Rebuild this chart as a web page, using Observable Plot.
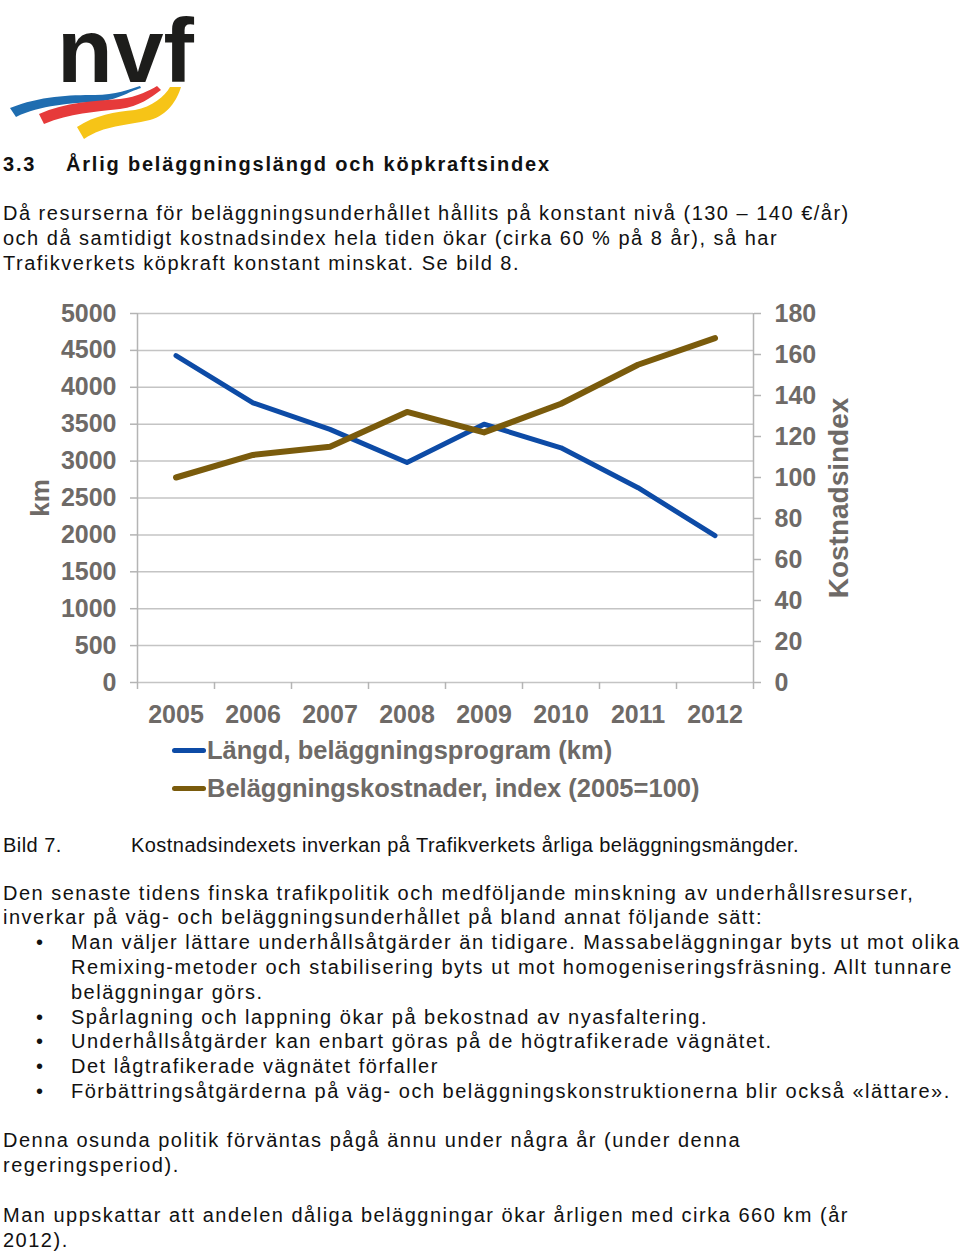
<!DOCTYPE html>
<html><head><meta charset="utf-8">
<script src="https://cdn.jsdelivr.net/npm/d3@7"></script>
<script src="https://cdn.jsdelivr.net/npm/@observablehq/plot@0.6"></script>
<style>
body{margin:0;width:960px;height:1253px;position:relative;background:#fff;overflow:hidden;font-family:"Liberation Sans",Arial,sans-serif;color:#111}
.t{position:absolute;white-space:nowrap;font-size:20px;letter-spacing:1.5px;line-height:20px}
.b{font-weight:bold;letter-spacing:1.8px}
.c{letter-spacing:0.45px}
#chart{position:absolute;left:0;top:295px}
.lg{position:absolute;left:172px;white-space:nowrap;font-family:"Liberation Sans",Arial,sans-serif;font-weight:bold;font-size:25.5px;color:#6e6a67;line-height:28px;display:flex;align-items:center}
.lg span.sw{display:inline-block;width:34px;height:5px;border-radius:3px;margin-right:1px}
</style></head><body>
<svg style="position:absolute;left:0;top:0" width="220" height="145">
  <text x="57" y="82" font-family="Liberation Sans, Arial, sans-serif" font-weight="bold" font-size="90" fill="#1d1d1b" textLength="137" lengthAdjust="spacingAndGlyphs">nvf</text>
  <path d="M10,108 C40,96 70,95 95,95 C115,95 130,89 140,86 L141,88 C128,92 118,100 96,102 C72,103 40,105 16,117 Z" fill="#1f6db0"/>
  <path d="M39,114 C65,102 95,101 120,99 C138,97 150,90 157,86 L161,90 C150,98 140,106 120,109 C95,112 70,113 44,124 Z" fill="#e63a3a"/>
  <path d="M77,127 C95,115 115,112 135,110 C152,107 165,96 170,87 L181,87 C177,100 168,115 150,120 C125,126 105,125 84,139 Z" fill="#f6c417"/>
</svg>

<div class="t b" style="left:3px;top:154px">3.3</div>
<div class="t b" style="left:66px;top:154px">Årlig beläggningslängd och köpkraftsindex</div>

<div class="t" style="left:3px;top:203px">Då resurserna för beläggningsunderhållet hållits på konstant nivå (130 – 140 €/år)</div>
<div class="t" style="left:3px;top:228px">och då samtidigt kostnadsindex hela tiden ökar (cirka 60 % på 8 år), så har</div>
<div class="t" style="left:3px;top:253px">Trafikverkets köpkraft konstant minskat. Se bild 8.</div>

<div id="chart"></div>
<div class="lg" style="top:736px"><span class="sw" id="sw1"></span><span id="lg1"></span></div>
<div class="lg" style="top:774px"><span class="sw" id="sw2"></span><span id="lg2"></span></div>

<div class="t c" style="left:3px;top:835px">Bild 7.</div>
<div class="t c" style="left:131px;top:835px">Kostnadsindexets inverkan på Trafikverkets årliga beläggningsmängder.</div>

<div class="t" style="left:3px;top:883px">Den senaste tidens finska trafikpolitik och medföljande minskning av underhållsresurser,</div>
<div class="t" style="left:3px;top:907px">inverkar på väg- och beläggningsunderhållet på bland annat följande sätt:</div>
<div class="t" style="left:36px;top:932px">•</div>
<div class="t" style="left:71px;top:932px">Man väljer lättare underhållsåtgärder än tidigare. Massabeläggningar byts ut mot olika</div>
<div class="t" style="left:71px;top:957px">Remixing-metoder och stabilisering byts ut mot homogeniseringsfräsning. Allt tunnare</div>
<div class="t" style="left:71px;top:982px">beläggningar görs.</div>
<div class="t" style="left:36px;top:1007px">•</div>
<div class="t" style="left:71px;top:1007px">Spårlagning och lappning ökar på bekostnad av nyasfaltering.</div>
<div class="t" style="left:36px;top:1031px">•</div>
<div class="t" style="left:71px;top:1031px">Underhållsåtgärder kan enbart göras på de högtrafikerade vägnätet.</div>
<div class="t" style="left:36px;top:1056px">•</div>
<div class="t" style="left:71px;top:1056px">Det lågtrafikerade vägnätet förfaller</div>
<div class="t" style="left:36px;top:1081px">•</div>
<div class="t" style="left:71px;top:1081px">Förbättringsåtgärderna på väg- och beläggningskonstruktionerna blir också «lättare».</div>

<div class="t" style="left:3px;top:1130px">Denna osunda politik förväntas pågå ännu under några år (under denna</div>
<div class="t" style="left:3px;top:1155px">regeringsperiod).</div>

<div class="t" style="left:3px;top:1205px">Man uppskattar att andelen dåliga beläggningar ökar årligen med cirka 660 km (år</div>
<div class="t" style="left:3px;top:1230px">2012).</div>

<script>
// ---- data ----
const years = [2005, 2006, 2007, 2008, 2009, 2010, 2011, 2012];
const langdKm = [4430, 3790, 3430, 2980, 3500, 3180, 2640, 1990];
const kostnadsIndex = [100, 111, 115, 132, 122, 136, 155, 168];
const leftTicks = [0, 500, 1000, 1500, 2000, 2500, 3000, 3500, 4000, 4500, 5000];
const rightTicks = [0, 20, 40, 60, 80, 100, 120, 140, 160, 180];
const seriesNames = ["Längd, beläggningsprogram (km)", "Beläggningskostnader, index (2005=100)"];
const seriesColors = ["#0d4ba6", "#7a5b0c"];
const leftLabel = "km";
const rightLabel = "Kostnadsindex";

const KM_MAX = 5000, IDX_MAX = 180;
const toKm = v => v * KM_MAX / IDX_MAX;
const data = years.map((year, i) => ({year, langd: langdKm[i], index: kostnadsIndex[i]}));
const bounds = years.map(y => y - 0.5).concat([years[years.length - 1] + 0.5]);
const gray = "#6e6a67";

const chart = Plot.plot({
  width: 960,
  height: 440,
  marginLeft: 137,
  marginRight: 207,
  marginTop: 18,
  marginBottom: 53,
  x: {domain: [bounds[0], bounds[bounds.length - 1]]},
  y: {domain: [0, KM_MAX]},
  style: {fontFamily: "Liberation Sans, Arial, sans-serif", fontWeight: "bold", fontSize: "25px", color: gray, background: "transparent"},
  marks: [
    Plot.gridY(leftTicks, {stroke: "#c4c4c4", strokeOpacity: 1, strokeWidth: 1.5}),
    Plot.ruleX([bounds[0], bounds[bounds.length - 1]], {stroke: "#b4b4b4", strokeWidth: 1.5}),
    Plot.axisY(leftTicks, {anchor: "left", tickSize: 7, tickPadding: 14, stroke: "#b4b4b4", strokeWidth: 1.5, fill: gray, fontSize: 25, label: null, tickFormat: d => String(d)}),
    Plot.axisY(rightTicks.map(toKm), {anchor: "right", tickSize: 7, tickPadding: 14, stroke: "#b4b4b4", strokeWidth: 1.5, fill: gray, fontSize: 25, label: null, tickFormat: d => String(Math.round(d * IDX_MAX / KM_MAX))}),
    Plot.axisX(bounds, {anchor: "bottom", tickSize: 7, stroke: "#b4b4b4", strokeWidth: 1.5, tickFormat: () => "", label: null}),
    Plot.axisX(years, {anchor: "bottom", tickSize: 0, tickPadding: 23, fill: gray, fontSize: 25, tickFormat: d => String(d), label: null}),
    Plot.text([leftLabel], {frameAnchor: "left", textAnchor: "middle", rotate: -90, dx: -97, fontSize: 26, fontWeight: "bold", fill: gray}),
    Plot.text([rightLabel], {frameAnchor: "right", textAnchor: "middle", rotate: -90, dx: 86, fontSize: 28, fontWeight: "bold", fill: gray}),
    Plot.line(data, {x: "year", y: "langd", stroke: seriesColors[0], strokeWidth: 5, strokeLinecap: "round", strokeLinejoin: "round"}),
    Plot.line(data, {x: "year", y: d => toKm(d.index), stroke: seriesColors[1], strokeWidth: 6, strokeLinecap: "round", strokeLinejoin: "round"})
  ]
});
document.getElementById("chart").appendChild(chart);
document.getElementById("lg1").textContent = seriesNames[0];
document.getElementById("lg2").textContent = seriesNames[1];
document.getElementById("sw1").style.background = seriesColors[0];
document.getElementById("sw2").style.background = seriesColors[1];
</script>
</body></html>
